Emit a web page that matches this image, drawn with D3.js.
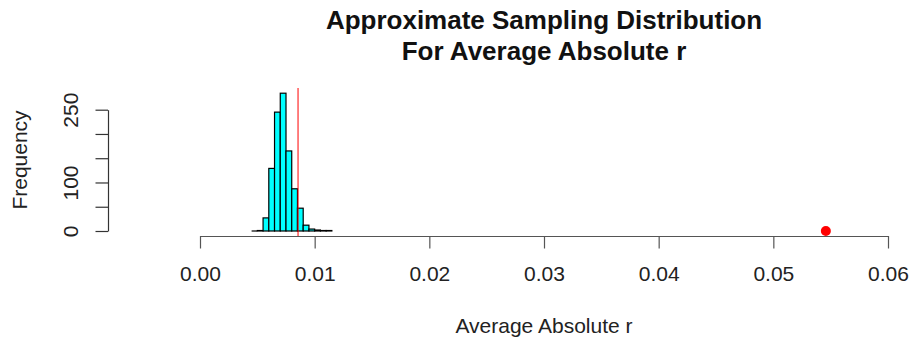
<!DOCTYPE html>
<html>
<head>
<meta charset="utf-8">
<script src="https://cdn.jsdelivr.net/npm/d3@7"></script>
<style>
  html, body { margin: 0; padding: 0; background: #fff; }
  svg { display: block; font-family: "Liberation Sans", Arial, Helvetica, sans-serif; }
</style>
</head>
<body>
<svg id="chart" width="914" height="345"></svg>
<script>
// Histogram of simulated average absolute correlations
const binEdges = [0.0045, 0.005, 0.0055, 0.006, 0.0065, 0.007, 0.0075, 0.008,
                  0.0085, 0.009, 0.0095, 0.010, 0.0105, 0.011, 0.0115];
const binCounts = [0, 1, 27, 129, 245, 284, 165, 87, 47, 12, 4, 2, 1, 1];

// Mean of the simulated values (vertical line) and the observed value (point)
const simulatedMean = 0.00855;
const observedValue = 0.05458;

const xTicks = [0.00, 0.01, 0.02, 0.03, 0.04, 0.05, 0.06];
const xTickLabels = ["0.00", "0.01", "0.02", "0.03", "0.04", "0.05", "0.06"];
const yTicks = [0, 50, 100, 150, 200, 250];
const yTickLabels = ["0", "", "100", "", "", "250"];

const titleLines = ["Approximate Sampling Distribution", "For Average Absolute r"];
const xLabel = "Average Absolute r";
const yLabel = "Frequency";

const svg = d3.select("#chart");

const x = d3.scaleLinear().domain([0, 0.06]).range([200, 888]);
const y = d3.scaleLinear().domain([0, 250]).range([231, 109.7]);

const plotTop = 88, plotBottom = 236;
const tick = 12.5;
const labelSize = 21;

// Bars
const bins = binCounts.map((c, i) => ({ x0: binEdges[i], x1: binEdges[i + 1], count: c }));
svg.append("g")
  .selectAll("rect")
  .data(bins)
  .join("rect")
  .attr("x", d => x(d.x0))
  .attr("y", d => y(d.count))
  .attr("width", d => x(d.x1) - x(d.x0))
  .attr("height", d => y(0) - y(d.count))
  .attr("fill", "#00ffff")
  .attr("stroke", "#000")
  .attr("stroke-width", 1.2);

// Zero-height bins are drawn as flat segments on the baseline
svg.append("g")
  .selectAll("line")
  .data(bins.filter(d => d.count === 0))
  .join("line")
  .attr("x1", d => x(d.x0)).attr("x2", d => x(d.x1))
  .attr("y1", y(0)).attr("y2", y(0))
  .attr("stroke", "#000").attr("stroke-width", 1.2);

// Vertical reference line at the simulated mean
svg.append("line")
  .attr("x1", x(simulatedMean)).attr("x2", x(simulatedMean))
  .attr("y1", plotTop).attr("y2", plotBottom)
  .attr("stroke", "#ff0000").attr("stroke-width", 1);

// Observed value
svg.append("circle")
  .attr("cx", x(observedValue))
  .attr("cy", y(0))
  .attr("r", 5)
  .attr("fill", "#ff0000");

// X axis
const xAxis = d3.axisBottom(x)
  .tickValues(xTicks)
  .tickFormat((d, i) => xTickLabels[i])
  .tickSizeInner(tick)
  .tickSizeOuter(0)
  .tickPadding(18);
const gx = svg.append("g")
  .attr("transform", `translate(0,${plotBottom})`)
  .call(xAxis);
gx.select(".domain").attr("stroke", "#555").attr("stroke-width", 1.2);
gx.selectAll(".tick line").attr("stroke", "#555").attr("stroke-width", 1.2);
gx.selectAll("text").attr("font-size", labelSize).attr("fill", "#222")
  .attr("font-family", "Liberation Sans, Arial, sans-serif");

// Y axis with labels parallel to the axis
const yAxis = d3.axisLeft(y)
  .tickValues(yTicks)
  .tickFormat((d, i) => yTickLabels[i])
  .tickSizeInner(tick)
  .tickSizeOuter(0);
const gy = svg.append("g")
  .attr("transform", "translate(108,0)")
  .call(yAxis);
gy.select(".domain").attr("stroke", "#333").attr("stroke-width", 1.2);
gy.selectAll(".tick line").attr("stroke", "#333").attr("stroke-width", 1.2);
gy.selectAll(".tick text")
  .attr("font-size", labelSize).attr("fill", "#222")
  .attr("font-family", "Liberation Sans, Arial, sans-serif")
  .attr("x", null)
  .attr("text-anchor", "middle")
  .attr("transform", "translate(-30,0) rotate(-90)")
  .attr("dy", "0");

// Title
svg.append("g")
  .selectAll("text")
  .data(titleLines)
  .join("text")
  .attr("x", 544)
  .attr("y", (d, i) => 29 + i * 31)
  .attr("text-anchor", "middle")
  .attr("font-size", 26)
  .attr("font-weight", "bold")
  .attr("fill", "#111")
  .text(d => d);

// Axis titles
svg.append("text")
  .attr("x", 544).attr("y", 333)
  .attr("text-anchor", "middle")
  .attr("font-size", labelSize).attr("fill", "#222")
  .text(xLabel);

svg.append("text")
  .attr("transform", "translate(27,160) rotate(-90)")
  .attr("text-anchor", "middle")
  .attr("font-size", labelSize).attr("fill", "#222")
  .text(yLabel);
</script>
</body>
</html>
